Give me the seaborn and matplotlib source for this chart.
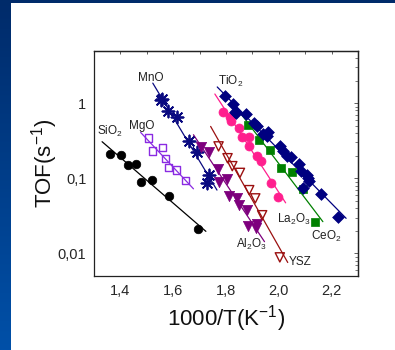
import numpy as np
import pandas as pd
import matplotlib
matplotlib.use("Agg")
import matplotlib.pyplot as plt
import seaborn as sns
from matplotlib.colors import LinearSegmentedColormap
from matplotlib.patches import Rectangle
from matplotlib.ticker import FixedLocator, FuncFormatter, LogLocator, MultipleLocator, NullFormatter

# ---------------- data ----------------
sio2_x = [1.361, 1.404, 1.429, 1.459, 1.478, 1.519, 1.584, 1.694]
sio2_y = [0.211, 0.202, 0.151, 0.154, 0.088, 0.0935, 0.0586, 0.0214]

mgo_x = [1.507, 1.521, 1.559, 1.570, 1.583, 1.612, 1.647]
mgo_y = [0.344, 0.231, 0.254, 0.185, 0.138, 0.129, 0.0944]

mno_x = [1.553, 1.557, 1.582, 1.616, 1.661, 1.689, 1.736, 1.729]
mno_y = [1.10, 1.13, 0.79, 0.653, 0.31, 0.224, 0.111, 0.087]

al2o3_x = [1.707, 1.737, 1.771, 1.774, 1.803, 1.811, 1.842, 1.848, 1.878, 1.884, 1.914, 1.916]
al2o3_y = [0.264, 0.222, 0.132, 0.088, 0.099, 0.0574, 0.0545, 0.0446, 0.0375, 0.023, 0.0218, 0.0244]

ysz_x = [1.772, 1.806, 1.824, 1.853, 1.888, 1.911, 1.937, 2.004]
ysz_y = [0.266, 0.185, 0.145, 0.118, 0.0695, 0.054, 0.0322, 0.00885]

la2o3_x = [1.788, 1.815, 1.819, 1.850, 1.859, 1.888, 1.888, 1.918, 1.934, 1.970, 1.996]
la2o3_y = [0.774, 0.653, 0.571, 0.467, 0.35, 0.35, 0.266, 0.196, 0.168, 0.0853, 0.0569]

ceo2_x = [1.882, 1.926, 1.967, 2.007, 2.049, 2.093, 2.137]
ceo2_y = [0.505, 0.32, 0.241, 0.138, 0.122, 0.0726, 0.0258]

tio2_x = [1.797, 1.828, 1.834, 1.838, 1.877, 1.906, 1.916, 1.941, 1.954, 1.958, 2.004,
          2.015, 2.030, 2.046, 2.077, 2.084, 2.105, 2.111, 2.115, 2.093, 2.160, 2.225]
tio2_y = [1.25, 0.98, 0.774, 0.738, 0.715, 0.553, 0.49, 0.388, 0.361, 0.408, 0.266,
          0.229, 0.196, 0.193, 0.156, 0.124, 0.109, 0.1016, 0.0916, 0.0748, 0.061, 0.0305]

x_ticks = [1.4, 1.6, 1.8, 2.0, 2.2]
x_tick_labels = ["1,4", "1,6", "1,8", "2,0", "2,2"]
y_ticks = [0.01, 0.1, 1]
y_tick_labels = ["0,01", "0,1", "1"]

# ---------------- style ----------------
sns.set_style("white")
plt.rcParams["font.family"] = ["Liberation Sans", "DejaVu Sans"]
plt.rcParams["mathtext.fontset"] = "custom"
plt.rcParams["mathtext.rm"] = "Liberation Sans"
plt.rcParams["mathtext.it"] = "Liberation Sans:italic"
plt.rcParams["mathtext.bf"] = "Liberation Sans:bold"

series = [
    # name, x, y, color, marker, filled, size, label, label_xy
    ("SiO2", sio2_x, sio2_y, "#000000", "o", True, 38, "SiO$_2$", (1.362, 0.42)),
    ("MgO", mgo_x, mgo_y, "#8a2be2", "s", False, 26, "MgO", (1.481, 0.50)),
    ("MnO", mno_x, mno_y, "#0a0a80", (8, 2, 0), True, 75, "MnO", (1.517, 2.18)),
    ("Al2O3", al2o3_x, al2o3_y, "#7d007d", "v", True, 55, "Al$_2$O$_3$", (1.895, 0.0133)),
    ("YSZ", ysz_x, ysz_y, "#9b1010", "v", False, 44, "YSZ", (2.080, 0.0076)),
    ("La2O3", la2o3_x, la2o3_y, "#ff1f8e", "o", True, 42, "La$_2$O$_3$", (2.057, 0.0285)),
    ("CeO2", ceo2_x, ceo2_y, "#008000", "s", True, 36, "CeO$_2$", (2.181, 0.0168)),
    ("TiO2", tio2_x, tio2_y, "#000080", "D", True, 36, "TiO$_2$", (1.819, 1.97)),
]

W, H = 395, 350
fig = plt.figure(figsize=(W / 100, H / 100), dpi=100)

# blue background + white panel
bg = fig.add_axes([0, 0, 1, 1], zorder=-10)
grad = np.linspace(0, 1, 256).reshape(-1, 1)
cmap = LinearSegmentedColormap.from_list("bg", ["#002b6a", "#0050a8"])
bg.imshow(grad, aspect="auto", cmap=cmap, extent=[0, 1, 0, 1], origin="upper")
bg.set_axis_off()
fig.patches.append(Rectangle((11 / W, 0), 1 - 11 / W, 1 - 3 / H, transform=fig.transFigure,
                             facecolor="white", edgecolor="none", zorder=-5))

ax = fig.add_axes([93.9 / W, 1 - 276 / H, (358 - 93.9) / W, (276 - 50.7) / H], zorder=1)
ax.set_facecolor("white")
ax.set_yscale("log")
ax.set_xlim(1.3, 2.3)
ax.set_ylim(0.005, 5)

for name, xs, ys, color, marker, filled, size, label, (lx, ly) in series:
    df = pd.DataFrame({"x": xs, "y": ys})
    # fit line in log space
    k, b = np.polyfit(df["x"], np.log10(df["y"]), 1)
    fx = np.array([df["x"].min() - 0.03, df["x"].max() + 0.03])
    fit = pd.DataFrame({"x": fx, "y": 10 ** (k * fx + b)})
    sns.lineplot(data=fit, x="x", y="y", color=color, lw=0.9, ax=ax, zorder=2)
    if marker == (8, 2, 0):
        sns.scatterplot(data=df, x="x", y="y", marker=marker, s=size, color=color,
                        edgecolor=color, linewidth=1.3, ax=ax, zorder=3)
    elif filled:
        sns.scatterplot(data=df, x="x", y="y", marker=marker, s=size, color=color,
                        edgecolor=color, linewidth=0.5, ax=ax, zorder=3)
    else:
        sns.scatterplot(data=df, x="x", y="y", marker=marker, s=size, facecolor="none",
                        edgecolor=color, linewidth=1.0, ax=ax, zorder=3)
    ax.text(lx, ly, label, fontsize=8.5, ha="center", va="center", color="#222222", zorder=4)

ax.xaxis.set_major_locator(FixedLocator(x_ticks))
ax.xaxis.set_major_formatter(FuncFormatter(lambda v, p: x_tick_labels[x_ticks.index(round(v, 1))] if round(v, 1) in x_ticks else ""))
ax.xaxis.set_minor_locator(MultipleLocator(0.1))
ax.yaxis.set_major_locator(FixedLocator(y_ticks))
ax.yaxis.set_major_formatter(FuncFormatter(lambda v, p: y_tick_labels[int(round(np.log10(v))) + 2] if v in y_ticks else ""))
ax.yaxis.set_minor_locator(LogLocator(base=10, subs=np.arange(2, 10)))
ax.yaxis.set_minor_formatter(NullFormatter())

ax.tick_params(axis="both", which="major", direction="out", length=3.5, width=0.8,
               labelsize=10.5, color="#222222", pad=2)
ax.tick_params(axis="both", which="minor", direction="out", length=2, width=0.6, color="#222222")
ax.tick_params(top=False, right=False, which="both")

# top/right inward ticks
sx = ax.secondary_xaxis("top")
sx.xaxis.set_major_locator(MultipleLocator(0.1))
sx.tick_params(direction="in", length=2, width=0.6, labeltop=False, color="#444444")
sy = ax.secondary_yaxis("right")
sy.set_yscale("log")
sy.yaxis.set_major_locator(FixedLocator(y_ticks))
sy.yaxis.set_minor_locator(LogLocator(base=10, subs=np.arange(2, 10)))
sy.yaxis.set_minor_formatter(NullFormatter())
sy.tick_params(which="major", direction="in", length=3, width=0.6, labelright=False, color="#444444")
sy.tick_params(which="minor", direction="in", length=2, width=0.5, labelright=False, color="#444444")
for s in (sx.spines.values()):
    s.set_linewidth(0.9)
for s in (sy.spines.values()):
    s.set_linewidth(0.9)

for s in ax.spines.values():
    s.set_linewidth(0.9)
    s.set_color("#222222")
    s.set_visible(True)

ax.set_xlabel("1000/T(K$^{-1}$)", fontsize=16, labelpad=4, color="#111111")
ax.set_ylabel("TOF(s$^{-1}$)", fontsize=16, labelpad=-2, color="#111111")

fig.savefig("out.png", dpi=100)
